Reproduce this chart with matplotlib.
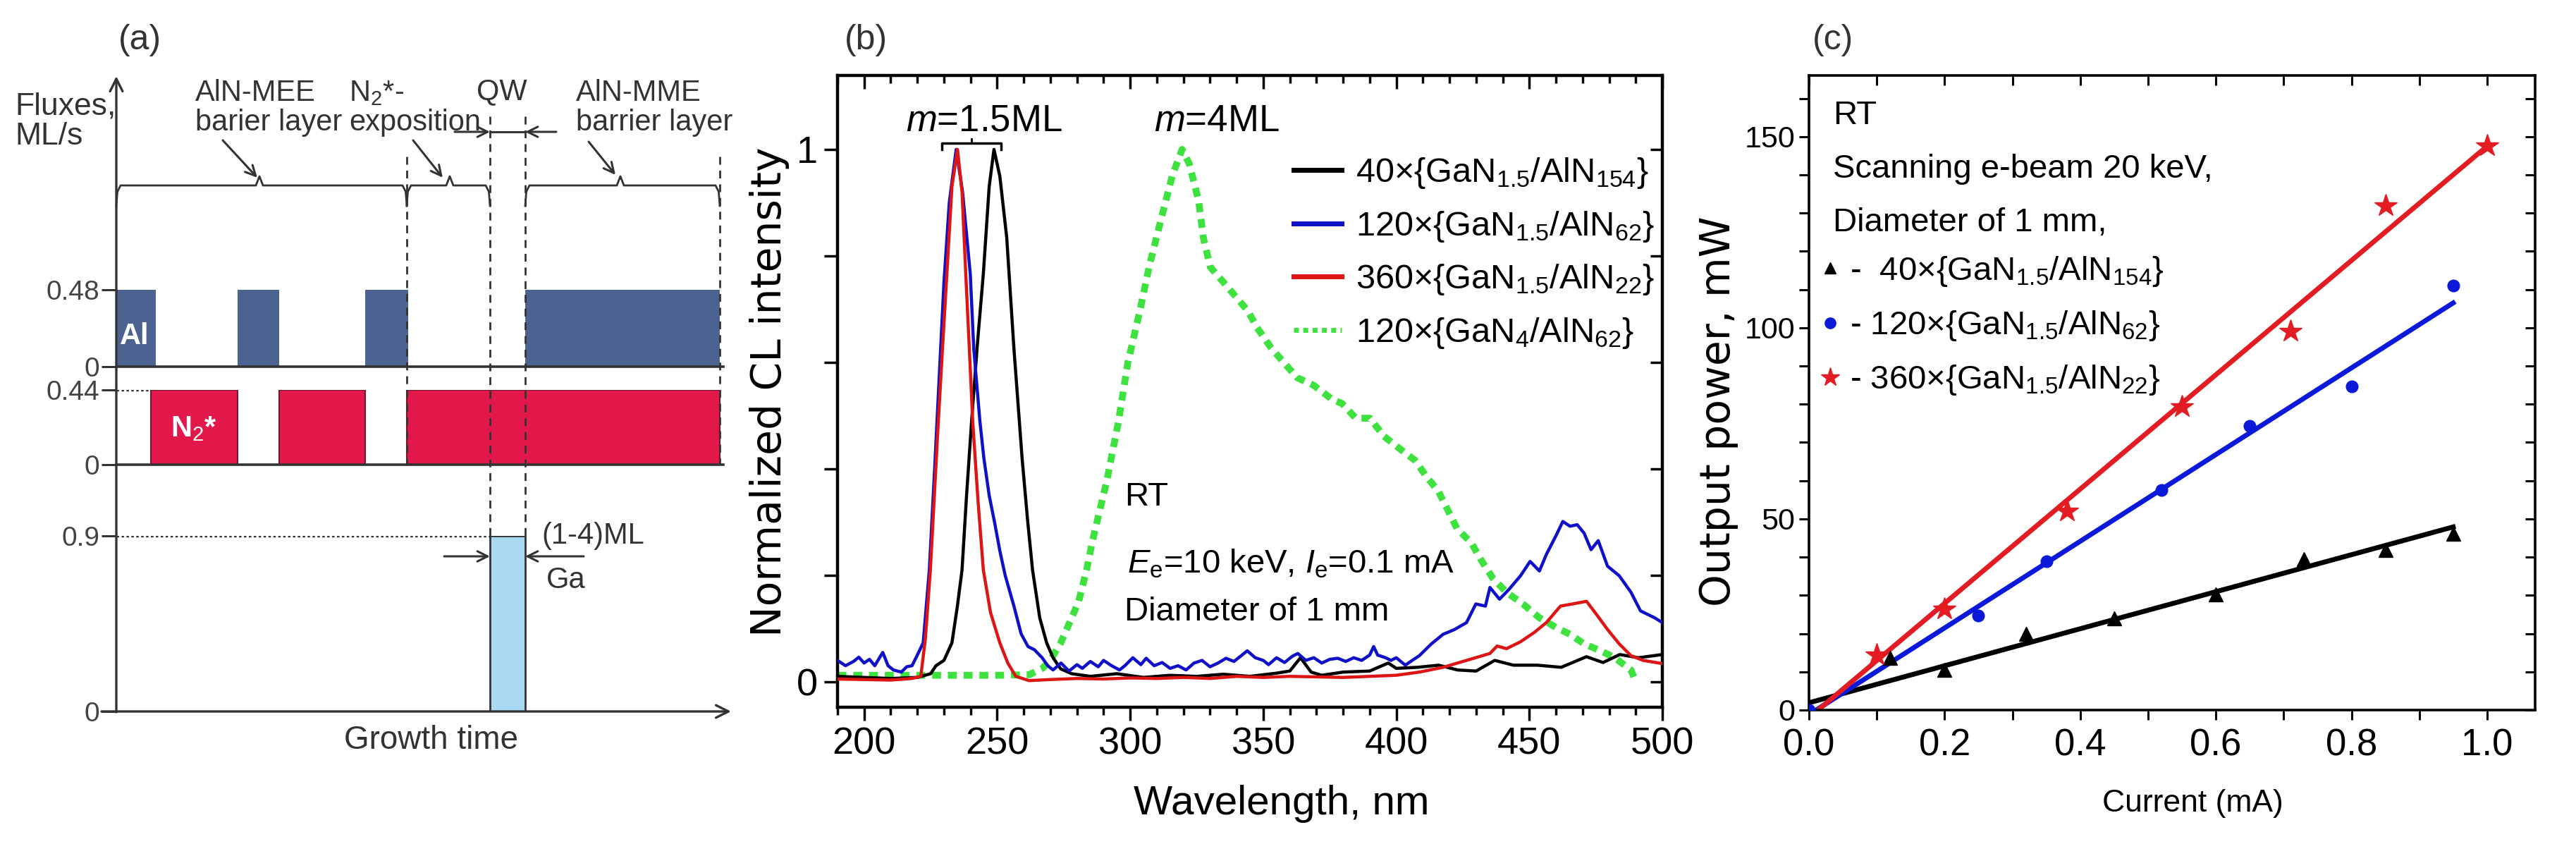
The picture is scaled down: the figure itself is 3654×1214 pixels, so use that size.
import matplotlib
matplotlib.use('Agg')
import matplotlib.pyplot as plt
from matplotlib import font_manager as fm
from matplotlib.lines import Line2D
from matplotlib.ticker import MultipleLocator, FuncFormatter, FormatStrFormatter

names = {f.name for f in fm.fontManager.ttflist}
SANS = 'Liberation Sans' if 'Liberation Sans' in names else 'DejaVu Sans'
NARROW = 'Liberation Sans Narrow' if 'Liberation Sans Narrow' in names else SANS
WIDE = 'DejaVu Sans'
plt.rcParams['font.family'] = [SANS, 'DejaVu Sans']
plt.rcParams['mathtext.fontset'] = 'custom'
plt.rcParams['mathtext.rm'] = SANS
plt.rcParams['mathtext.it'] = SANS + ':italic'
plt.rcParams['mathtext.bf'] = SANS + ':bold'

# ---------------- data: panel (a) growth sequence (time in arb. units) ----------------
al_pulses = [(0.0, 5.6), (17.2, 23.1), (35.3, 41.4), (58.0, 85.6)]
al_flux = 0.48
n2_pulses = [(4.9, 17.2), (23.1, 35.3), (41.2, 85.6)]
n2_flux = 0.44
ga_pulses = [(53.0, 58.0)]
ga_flux = 0.9
brace_segments = [(0.0, 41.2, 20.3), (41.2, 53.0, 47.3), (58.0, 85.6, 71.5)]

# ---------------- data: panel (b) CL spectra ----------------
wl_black = [190, 200, 210, 220, 225, 227, 230, 233, 235, 236.8, 238.5, 240.4, 242.5, 244.8, 247, 248.8,
            251, 253.6, 256.3, 259.4, 261.5, 263.3, 266, 268.6, 271, 273.9, 278, 285, 295, 305, 315, 325,
            335, 345, 355, 360, 364, 368, 372, 380, 390, 397, 400, 408, 416, 423, 430, 437, 444, 453, 462,
            471.5, 477.7, 484, 491, 500]
int_black = [0.010, 0.008, 0.006, 0.008, 0.015, 0.030, 0.040, 0.073, 0.140, 0.210, 0.350, 0.490, 0.630,
             0.766, 0.930, 1.000, 0.950, 0.834, 0.626, 0.418, 0.300, 0.210, 0.120, 0.073, 0.045, 0.024,
             0.015, 0.010, 0.015, 0.008, 0.012, 0.010, 0.014, 0.010, 0.016, 0.020, 0.045, 0.018, 0.012,
             0.018, 0.020, 0.035, 0.025, 0.027, 0.031, 0.022, 0.020, 0.040, 0.031, 0.031, 0.027, 0.047,
             0.036, 0.051, 0.045, 0.051]

wl_blue = [190, 193, 196, 198, 200, 202, 204, 207, 209, 211, 214, 216, 218, 220, 222.2, 224.5, 226.5, 228,
           230, 232, 234.6, 237, 239.9, 241.2, 243.5, 245, 247, 249, 251, 253, 256.3, 259, 261.6, 264,
           266.9, 269, 271, 274, 277, 280, 282, 285, 288, 290, 293, 296, 298, 301, 304, 306, 309, 312, 315,
           318, 321, 324, 327, 330, 333, 336, 339, 342, 344, 347, 350, 352, 355, 358, 361, 363, 366, 369,
           372, 375, 378, 381, 384, 387, 390, 391.5, 393, 396, 398, 400, 403.4, 406, 408.7, 413.2, 417.6,
           421.9, 426.4, 429.9, 433.5, 435.2, 438.8, 442.3, 446.7, 450.3, 453.8, 456.4, 460, 462.6, 465.3,
           468, 470.6, 473.2, 475.9, 479.4, 483.8, 488.2, 491.8, 497.1, 500]
int_blue = [0.040, 0.030, 0.038, 0.046, 0.035, 0.042, 0.030, 0.055, 0.030, 0.022, 0.018, 0.028, 0.030,
            0.050, 0.073, 0.210, 0.400, 0.550, 0.750, 0.900, 1.000, 0.920, 0.766, 0.626, 0.490, 0.420,
            0.350, 0.300, 0.246, 0.200, 0.142, 0.090, 0.066, 0.060, 0.045, 0.030, 0.022, 0.035, 0.020,
            0.032, 0.025, 0.038, 0.028, 0.040, 0.030, 0.022, 0.030, 0.045, 0.032, 0.044, 0.030, 0.036,
            0.025, 0.030, 0.022, 0.035, 0.040, 0.028, 0.035, 0.044, 0.038, 0.050, 0.058, 0.045, 0.040,
            0.032, 0.045, 0.036, 0.048, 0.053, 0.040, 0.045, 0.035, 0.042, 0.044, 0.038, 0.045, 0.040,
            0.050, 0.066, 0.050, 0.045, 0.040, 0.045, 0.031, 0.040, 0.049, 0.071, 0.089, 0.098, 0.111,
            0.146, 0.142, 0.177, 0.155, 0.173, 0.199, 0.226, 0.208, 0.239, 0.274, 0.301, 0.292, 0.295,
            0.279, 0.248, 0.265, 0.217, 0.199, 0.168, 0.133, 0.120, 0.111]

wl_red = [190, 200, 210, 218, 221.3, 223, 224.9, 226.5, 227.9, 229.5, 231.1, 233, 235.1, 236.8, 238.2,
          239.5, 240.8, 242.8, 244.8, 247.5, 251, 254, 257, 262, 270, 280, 290, 300, 310, 320, 330, 340,
          350, 360, 370, 380, 390, 399.9, 408.7, 417.6, 426.4, 435.2, 437.9, 441.4, 446.7, 452, 456.4,
          461.7, 466.2, 471.5, 475, 479.4, 483.8, 488.2, 492.7, 500]
int_red = [0.005, 0.004, 0.003, 0.006, 0.010, 0.080, 0.210, 0.360, 0.490, 0.630, 0.766, 0.930, 1.000,
           0.920, 0.766, 0.630, 0.490, 0.340, 0.210, 0.130, 0.073, 0.035, 0.010, 0.002, 0.004, 0.006,
           0.005, 0.007, 0.006, 0.008, 0.006, 0.010, 0.008, 0.010, 0.009, 0.008, 0.010, 0.012, 0.018,
           0.027, 0.040, 0.053, 0.067, 0.062, 0.075, 0.093, 0.111, 0.142, 0.146, 0.151, 0.128, 0.098,
           0.071, 0.049, 0.040, 0.034]

wl_green = [190, 210, 230, 250, 262, 267, 270, 273.9, 278, 280.6, 283.6, 285.9, 291.2, 295.6, 299.1,
            303.6, 307.1, 311.6, 315.9, 319.5, 322.2, 325.7, 327.5, 330.1, 337.2, 344.3, 347.7, 353,
            356.6, 362.8, 368.9, 376, 379.5, 384.8, 390.1, 395.4, 400.7, 407, 411.4, 415.8, 419.3, 422.9,
            428.2, 431.7, 436.2, 441.4, 447.6, 453.8, 460, 465.3, 470.6, 476.8, 482.1, 488.2, 490]
int_green = [0.012, 0.012, 0.012, 0.012, 0.013, 0.025, 0.040, 0.073, 0.120, 0.150, 0.210, 0.266, 0.377,
             0.489, 0.599, 0.696, 0.779, 0.869, 0.952, 1.000, 0.973, 0.904, 0.834, 0.779, 0.738, 0.696,
             0.665, 0.627, 0.606, 0.571, 0.557, 0.530, 0.523, 0.495, 0.495, 0.461, 0.440, 0.416, 0.385,
             0.358, 0.323, 0.287, 0.261, 0.230, 0.195, 0.168, 0.146, 0.120, 0.102, 0.089, 0.071, 0.058,
             0.045, 0.022, 0.000]

labels_b = ['40×{GaN$_{1.5}$/AlN$_{154}$}', '120×{GaN$_{1.5}$/AlN$_{62}$}',
            '360×{GaN$_{1.5}$/AlN$_{22}$}', '120×{GaN$_{4}$/AlN$_{62}$}']

# ---------------- data: panel (c) output power ----------------
cur_40 = [0.12, 0.20, 0.32, 0.45, 0.60, 0.73, 0.85, 0.95]
pow_40 = [13.7, 10.6, 20.0, 23.9, 30.2, 39.5, 41.8, 46.2]
cur_120 = [0.0, 0.25, 0.35, 0.52, 0.65, 0.80, 0.95]
pow_120 = [0.0, 24.8, 39.0, 57.6, 74.4, 84.7, 111.0]
cur_360 = [0.10, 0.20, 0.38, 0.55, 0.71, 0.85, 1.00]
pow_360 = [14.3, 26.4, 52.0, 79.3, 99.0, 131.9, 147.5]
fit_x_40, fit_y_40 = [0.0, 0.95], [1.9, 47.9]
fit_x_120, fit_y_120 = [0.0, 0.95], [-1.2, 106.5]
fit_x_360, fit_y_360 = [0.0, 1.0], [-2.0, 147.5]
labels_c = ['-  40×{GaN$_{1.5}$/AlN$_{154}$}', '- 120×{GaN$_{1.5}$/AlN$_{62}$}',
            '- 360×{GaN$_{1.5}$/AlN$_{22}$}']

# ---------------- figure ----------------
W, H = 3654, 1214
fig = plt.figure(figsize=(W / 100, H / 100), dpi=100)
fig.patch.set_facecolor('white')


def px_axes(x0, y0, x1, y1, **kw):
    return fig.add_axes([x0 / W, 1 - y1 / H, (x1 - x0) / W, (y1 - y0) / H], **kw)


DARK = '#333333'
AL_C = '#4c6391'
N2_C = '#e2184b'
GA_C = '#a9d9f3'

# ======== panel (a) ========
T_MAX = 87.0
chan = []
for (y0, y1, top, ticks) in [(411, 520, al_flux, ['0', '0.48']), (553, 659, n2_flux, ['0', '0.44']),
                             (760, 1009, ga_flux, ['0', '0.9'])]:
    a = px_axes(165, y0, 1035, y1)
    a.set_xlim(0, T_MAX)
    a.set_ylim(0, top)
    a.patch.set_alpha(0)
    for s in ['top', 'right', 'left']:
        a.spines[s].set_visible(False)
    a.spines['bottom'].set_bounds(0, 86.1)
    a.spines['bottom'].set_linewidth(2.6)
    a.spines['bottom'].set_color(DARK)
    a.set_xticks([])
    a.set_yticks([0, top])
    a.set_yticklabels(ticks, fontsize=28, family=NARROW, color='#444444')
    a.tick_params(axis='y', direction='out', length=15, width=2.2, color=DARK, pad=2)
    chan.append(a)
ax_al, ax_n2, ax_ga = chan
ax_ga.spines['bottom'].set_visible(False)

for (s, e) in al_pulses:
    ax_al.bar(s, al_flux, width=e - s, align='edge', color=AL_C, linewidth=0)
for (s, e) in n2_pulses:
    ax_n2.bar(s, n2_flux, width=e - s, align='edge', color=N2_C, edgecolor='#6d1a2a', linewidth=1.5)
for (s, e) in ga_pulses:
    ax_ga.bar(s, ga_flux, width=e - s, align='edge', color=GA_C, edgecolor=DARK, linewidth=2)
ax_n2.plot([0, n2_pulses[0][0]], [n2_flux, n2_flux], color=DARK, lw=2.5, ls=(0, (1, 1)))
ax_ga.plot([0, ga_pulses[0][0]], [ga_flux, ga_flux], color=DARK, lw=2.5, ls=(0, (1, 1)))
ax_al.text(2.6, 0.19, 'Al', color='white', fontsize=30, ha='center', va='center', family=NARROW,
           fontweight='bold')
ax_n2.text(11.0, 0.21, 'N$_2$*', color='white', fontsize=30, ha='center', va='center', family=NARROW,
           fontweight='bold')

# overlay for axis arrows, annotations (x in time units, y in pixels)
ov = px_axes(0, 0, 1100, 1214)
ov.set_xlim(-16.5, 93.5)
ov.set_ylim(1214, 0)
ov.axis('off')
ov.patch.set_alpha(0)
ov.set_zorder(5)

arr = dict(arrowstyle='->', lw=2.4, color=DARK, mutation_scale=32, shrinkA=0, shrinkB=0)
ov.annotate('', xy=(0, 108), xytext=(0, 1010), arrowprops=arr)
ov.annotate('', xy=(87.2, 1009), xytext=(-2.1, 1009), arrowprops=arr)

# dashed guides
g_start, g_end = ga_pulses[0]
for t, ya, yb in [(n2_pulses[2][0], 222, 659), (g_start, 165, 760), (g_end, 165, 760),
                  (al_pulses[-1][1], 222, 659)]:
    ov.plot([t, t], [ya, yb], color=DARK, lw=2, ls=(0, (4, 3)))

# braces
for (t0, t1, tc) in brace_segments:
    xs = [t0, t0 + 0.15, t0 + 0.6, tc - 0.5, tc, tc + 0.5, t1 - 0.6, t1 - 0.15, t1]
    ys = [292, 272, 263, 263, 250, 263, 263, 272, 292]
    ov.plot(xs, ys, color=DARK, lw=2.0)

small_arr = dict(arrowstyle='->', lw=2.2, color=DARK, mutation_scale=26, shrinkA=0, shrinkB=0)
ov.annotate('', xy=(20.0, 252), xytext=(15.1, 199), arrowprops=small_arr)
ov.annotate('', xy=(46.3, 252), xytext=(42.1, 199), arrowprops=small_arr)
ov.annotate('', xy=(70.8, 248), xytext=(67.0, 201), arrowprops=small_arr)
ov.annotate('', xy=(g_start, 187), xytext=(48.0, 187), arrowprops=small_arr)
ov.annotate('', xy=(g_end, 187), xytext=(62.4, 187), arrowprops=small_arr)
ov.plot([g_start, g_end], [187, 187], color=DARK, lw=2.2)
ov.annotate('', xy=(g_start, 789), xytext=(46.5, 789), arrowprops=small_arr)
ov.annotate('', xy=(g_end, 789), xytext=(66.3, 789), arrowprops=small_arr)

tk = dict(fontsize=30, color=DARK, family=NARROW, linespacing=1.05)
ov.text(11.2, 153, 'AlN-MEE\nbarier layer', ha='left', va='center', **tk)
ov.text(33.0, 153, 'N$_2$*-\nexposition', ha='left', va='center', **tk)
ov.text(54.7, 130, 'QW', ha='center', va='center', **tk)
ov.text(65.2, 153, 'AlN-MME\nbarrier layer', ha='left', va='center', **tk)
ov.text(60.3, 760, '(1-4)ML', ha='left', va='center', **tk)
ov.text(61.0, 823, 'Ga', ha='left', va='center', **tk)
ov.text(44.7, 1050, 'Growth time', ha='center', va='center', fontsize=33, color=DARK, family=NARROW)
ov.text(-14.4, 172, 'Fluxes,\nML/s', ha='left', va='center', fontsize=32, color=DARK, family=NARROW,
        linespacing=1.05)

fig.text(198 / W, 1 - 57 / H, '(a)', ha='center', va='center', fontsize=36, color=DARK, family=NARROW)
fig.text(1228 / W, 1 - 57 / H, '(b)', ha='center', va='center', fontsize=36, color=DARK, family=NARROW)
fig.text(2600 / W, 1 - 57 / H, '(c)', ha='center', va='center', fontsize=36, color=DARK, family=NARROW)

# ======== panel (b) ========
axb = px_axes(1188, 107, 2358, 1003)
axb.set_xlim(190, 500)
axb.set_ylim(-0.048, 1.139)
GREEN = '#3ee23e'
axb.plot(wl_green, int_green, color=GREEN, lw=7, ls=(0, (1.3, 1.0)), zorder=2)
axb.plot(wl_black, int_black, color='black', lw=3.2, zorder=3)
axb.plot(wl_red, int_red, color='#dd1515', lw=3.2, zorder=4)
axb.plot(wl_blue, int_blue, color='#1010c8', lw=3.2, zorder=3)

for s in axb.spines.values():
    s.set_linewidth(3.2)
axb.xaxis.set_major_locator(MultipleLocator(50))
axb.xaxis.set_minor_locator(MultipleLocator(10))
axb.yaxis.set_major_locator(MultipleLocator(0.2))
axb.yaxis.set_major_formatter(FuncFormatter(
    lambda v, p: '0' if abs(v) < 1e-6 else ('1' if abs(v - 1) < 1e-6 else '')))
axb.tick_params(which='both', direction='out', width=2.5, labelsize=39, top=False, right=False)
axb.tick_params(which='major', length=14, pad=6)
axb.tick_params(which='minor', length=8)
sxb = axb.secondary_xaxis('top')
sxb.xaxis.set_major_locator(MultipleLocator(50))
sxb.xaxis.set_minor_locator(MultipleLocator(10))
sxb.tick_params(which='both', direction='in', width=2.5, labeltop=False)
sxb.tick_params(which='major', length=14)
sxb.tick_params(which='minor', length=8)
syb = axb.secondary_yaxis('right')
syb.yaxis.set_major_locator(MultipleLocator(0.2))
syb.tick_params(which='both', direction='in', width=2.5, length=12, labelright=False)

hb = [Line2D([], [], color='black', lw=5), Line2D([], [], color='#1010c8', lw=5),
      Line2D([], [], color='#dd1515', lw=5), Line2D([], [], color=GREEN, lw=5, ls=(0, (1, 0.9)))]
axb.legend(hb, labels_b, loc='upper right', bbox_to_anchor=(0.99, 0.873), frameon=False, fontsize=35,
           handlelength=1.4, handletextpad=0.4, labelspacing=0.55, borderpad=0, borderaxespad=0)

axb.text(245.1, 1.053, '$m$=1.5ML', ha='center', va='center', fontsize=38)
axb.text(332.6, 1.053, '$m$=4ML', ha='center', va='center', fontsize=38)
axb.plot([229.2, 229.2, 251.5, 251.5], [1.0, 1.012, 1.012, 1.0], color='black', lw=2.5)
axb.plot([240.3, 240.3], [1.012, 1.02], color='black', lw=2)
axb.text(297.9, 0.347, 'RT', ha='left', va='center', fontsize=34)
axb.text(299.0, 0.221, '$E_\\mathrm{e}$=10 keV, $I_\\mathrm{e}$=0.1 mA', ha='left', va='center', fontsize=34)
axb.text(297.9, 0.131, 'Diameter of 1 mm', ha='left', va='center', fontsize=34)

fig.text(1092 / W, 1 - 556 / H, 'Normalized CL intensity', rotation=90, ha='center', va='center',
         fontsize=42, family=WIDE)
fig.text(1818 / W, 1 - 1140 / H, 'Wavelength, nm', ha='center', va='center', fontsize=42)

# ======== panel (c) ========
axc = px_axes(2566, 107, 3596, 1007)
axc.set_xlim(0, 1.0708)
axc.set_ylim(0, 166)
RED = '#e31b23'
BLUE = '#0b19d9'
axc.plot(fit_x_40, fit_y_40, color='black', lw=5, zorder=2)
axc.plot(fit_x_120, fit_y_120, color=BLUE, lw=5, zorder=2)
axc.plot(fit_x_360, fit_y_360, color=RED, lw=5, zorder=2)
axc.plot(cur_40, pow_40, ls='none', marker='^', color='black', ms=14, zorder=3)
axc.plot(cur_120, pow_120, ls='none', marker='o', color=BLUE, ms=12, zorder=3)
axc.plot(cur_360, pow_360, ls='none', marker='*', color=RED, ms=24, zorder=4)

for s in axc.spines.values():
    s.set_linewidth(2.6)
axc.xaxis.set_major_locator(MultipleLocator(0.2))
axc.xaxis.set_minor_locator(MultipleLocator(0.1))
axc.xaxis.set_major_formatter(FormatStrFormatter('%.1f'))
axc.yaxis.set_major_locator(MultipleLocator(50))
axc.yaxis.set_minor_locator(MultipleLocator(10))
axc.tick_params(which='both', direction='out', width=2.2, length=10, top=False, right=False)
axc.tick_params(axis='x', labelsize=38, pad=8)
axc.tick_params(axis='y', labelsize=31, pad=4)
sxc = axc.secondary_xaxis('top')
sxc.xaxis.set_major_locator(MultipleLocator(0.2))
sxc.xaxis.set_minor_locator(MultipleLocator(0.1))
sxc.tick_params(which='both', direction='in', width=2.2, length=10, labeltop=False)
syc = axc.secondary_yaxis('right')
syc.yaxis.set_major_locator(MultipleLocator(50))
syc.yaxis.set_minor_locator(MultipleLocator(10))
syc.tick_params(which='both', direction='in', width=2.2, length=10, labelright=False)

axc.text(0.035, 155.5, 'RT', ha='left', va='center', fontsize=34)
axc.text(0.035, 141.5, 'Scanning e-beam 20 keV,', ha='left', va='center', fontsize=34)
axc.text(0.035, 127.5, 'Diameter of 1 mm,', ha='left', va='center', fontsize=34)
hc = [Line2D([], [], ls='none', marker='^', color='black', ms=11),
      Line2D([], [], ls='none', marker='o', color=BLUE, ms=11),
      Line2D([], [], ls='none', marker='*', color=RED, ms=20)]
axc.legend(hc, labels_c, loc='upper left', bbox_to_anchor=(0.015, 0.718), frameon=False, fontsize=34,
           handlelength=0.6, handletextpad=0.3, labelspacing=0.62, borderpad=0, borderaxespad=0)

fig.text(2438 / W, 1 - 583 / H, 'Output power, mW', rotation=90, ha='center', va='center',
         fontsize=42, family=WIDE)
fig.text(3110 / W, 1 - 1140 / H, 'Current (mA)', ha='center', va='center', fontsize=32)

fig.savefig('out.png', dpi=100, facecolor='white')
